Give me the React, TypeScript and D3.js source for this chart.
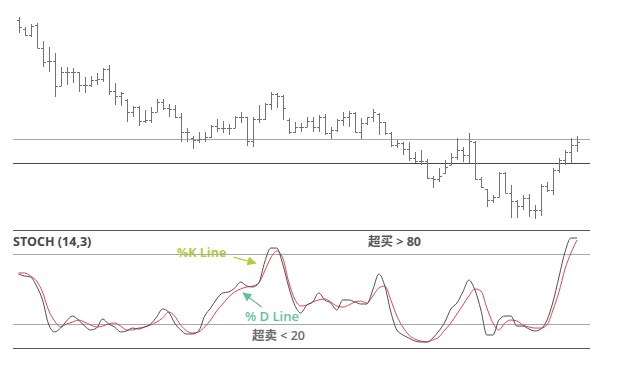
import React from "react";
import * as d3 from "d3";

// price bars (price units)
const highs = [213, 203, 206, 207, 189, 183, 177, 163, 163, 162, 158, 153, 154, 157, 162, 165, 147, 138, 131, 124,
  124, 120, 123, 131, 131, 126, 125, 117, 102, 94, 98, 98, 105, 111, 109, 106, 114, 118, 113, 113,
  125, 127, 138, 137, 135, 112, 108, 107, 113, 113, 115, 116, 103, 111, 118, 119, 118, 112, 113, 121,
  117, 108, 98, 90, 88, 88, 78, 80, 71, 54, 62, 70, 77, 92, 83, 97, 89, 53, 41, 35,
  58, 58, 45, 30, 35, 36, 25, 46, 48, 62, 72, 80, 92, 94];
const lows = [197, 194, 193, 182, 163, 158, 133, 144, 145, 147, 138, 137, 143, 145, 148, 135, 125, 124, 108, 113,
  104, 107, 107, 118, 120, 113, 112, 88, 88, 81, 87, 88, 92, 98, 97, 95, 102, 107, 84, 83,
  107, 110, 120, 122, 110, 96, 97, 98, 103, 98, 98, 95, 91, 98, 104, 103, 97, 91, 105, 108,
  95, 95, 83, 82, 75, 69, 67, 65, 51, 42, 48, 56, 65, 70, 68, 67, 50, 42, 23, 27,
  33, 37, 12, 12, 20, 13, 11, 14, 38, 35, 57, 65, 67, 78];
const opens = [210, 201, 195, 205, 182, 169, 169, 144, 158, 158, 158, 145, 145, 150, 151, 161, 139, 134, 130, 118,
  123, 109, 110, 118, 128, 122, 121, 113, 98, 92, 90, 91, 93, 104, 102, 102, 102, 113, 113, 89,
  111, 111, 126, 136, 134, 110, 98, 103, 103, 109, 103, 113, 97, 100, 110, 113, 117, 98, 107, 113,
  116, 108, 97, 85, 87, 81, 72, 69, 69, 52, 51, 57, 65, 73, 80, 75, 88, 51, 41, 30,
  33, 57, 37, 29, 24, 32, 20, 20, 44, 40, 60, 70, 78, 85];
const closes = [203, 195, 204, 182, 168, 169, 144, 158, 158, 158, 145, 145, 150, 151, 161, 139, 134, 137, 118, 123,
  109, 110, 118, 128, 122, 121, 113, 98, 98, 90, 91, 93, 104, 102, 102, 102, 113, 113, 89, 111,
  111, 126, 136, 134, 122, 98, 103, 103, 109, 103, 113, 97, 100, 110, 113, 117, 98, 107, 113, 118,
  108, 97, 85, 87, 81, 72, 69, 69, 52, 51, 54, 63, 73, 80, 75, 89, 51, 43, 30, 33,
  57, 37, 29, 24, 32, 20, 20, 44, 40, 60, 70, 78, 85, 88];

// stochastic %K and %D, one value per bar
const kValues = [62.7, 61.0, 60.2, 52.5, 40.7, 20.3, 13.6, 16.9, 22.9, 27.1, 23.7, 18.6, 15.3, 16.9, 24.6, 20.3, 17.8, 13.6, 14.4, 16.9,
  16.1, 17.8, 20.3, 26.3, 33.1, 30.5, 21.2, 15.3, 11.9, 11.9, 14.4, 27.1, 33.9, 41.5, 46.6, 47.5, 50.8, 55.9, 52.5, 51.7,
  55.1, 72.9, 84.7, 84.7, 71.2, 51.7, 36.4, 29.7, 36.4, 39.0, 46.6, 40.7, 38.1, 32.2, 40.7, 40.7, 39.0, 37.3, 37.3, 49.2,
  62.7, 52.5, 30.5, 15.3, 11.0, 8.5, 5.9, 5.1, 5.1, 8.5, 14.4, 22.0, 33.1, 38.1, 47.5, 57.6, 49.2, 32.2, 11.0, 11.0,
  23.7, 27.1, 27.1, 18.6, 18.6, 16.1, 14.4, 16.1, 23.7, 39.0, 60.2, 81.4, 93.2, 93.2];
const dValues = [63.6, 63.6, 61.0, 56.8, 47.5, 32.2, 22.9, 17.8, 20.3, 22.0, 23.7, 22.0, 19.5, 17.8, 18.6, 20.3, 21.2, 18.6, 15.3, 15.3,
  16.9, 17.8, 19.5, 22.0, 25.4, 30.5, 27.1, 19.5, 14.4, 12.7, 13.6, 17.8, 23.7, 31.4, 37.3, 43.2, 47.5, 50.0, 51.7, 52.5,
  55.1, 65.3, 76.3, 82.2, 76.3, 55.9, 41.5, 35.6, 36.4, 39.0, 40.7, 41.5, 39.0, 35.6, 34.7, 36.4, 39.0, 39.8, 38.1, 44.1,
  50.8, 52.5, 40.7, 27.1, 17.8, 11.0, 7.6, 5.9, 5.1, 6.8, 9.3, 15.3, 21.2, 28.8, 36.4, 44.1, 50.0, 48.3, 33.9, 21.2,
  15.3, 21.2, 23.7, 22.9, 19.5, 17.8, 16.9, 16.9, 19.5, 32.2, 47.5, 66.9, 80.5, 91.5];

const priceLevels = [91, 67]; // resistance, support
const stochBands = [80, 20];

const font = "'Open Sans', 'Noto Sans CJK SC', sans-serif";

export default function App() {
  const n = highs.length;
  const x = d3.scaleLinear().domain([0, n - 1]).range([18.5, 577]);
  const yP = d3.scaleLinear().domain([0, 220]).range([230, 10]);
  const yS = d3.scaleLinear().domain([0, 100]).range([348, 230]);
  const crisp = (v: number) => Math.round(v) + 0.5;
  const left = 13;
  const right = 590;

  const line = d3
    .line<number>()
    .x((_, i) => x(i))
    .y((d) => yS(d))
    .curve(d3.curveMonotoneX);

  return (
    <svg width={621} height={388} style={{ position: "absolute", left: 0, top: 0 }} fontFamily={font}>
      <defs>
        <marker id="arrK" viewBox="0 0 10 10" refX="9" refY="5" markerWidth="7" markerHeight="7" orient="auto">
          <path d="M0,0 L10,5 L0,10 z" fill="#b5cc3a" />
        </marker>
        <marker id="arrD" viewBox="0 0 10 10" refX="9" refY="5" markerWidth="7" markerHeight="7" orient="auto">
          <path d="M0,0 L10,5 L0,10 z" fill="#5fbfa0" />
        </marker>
      </defs>

      {/* price panel levels */}
      {priceLevels.map((p, i) => (
        <line key={p} x1={left} x2={right} y1={crisp(yP(p))} y2={crisp(yP(p))}
          stroke={i === 0 ? "#a8a8a8" : "#4a4a4a"} strokeWidth={1} />
      ))}

      {/* OHLC bars */}
      <g stroke="#737373" strokeWidth={1}>
        {highs.map((h, i) => {
          const cx = crisp(x(i));
          return (
            <g key={i}>
              <line x1={cx} x2={cx} y1={yP(h)} y2={yP(lows[i])} />
              <line x1={cx - 2.5} x2={cx} y1={crisp(yP(opens[i]))} y2={crisp(yP(opens[i]))} />
              <line x1={cx} x2={cx + 2.5} y1={crisp(yP(closes[i]))} y2={crisp(yP(closes[i]))} />
            </g>
          );
        })}
      </g>

      {/* stoch panel */}
      <text x={left} y={246} fontSize={12.5} fontWeight={700} fill="#474747">STOCH (14,3)</text>
      <text x={177} y={257} fontSize={12.5} fontWeight={700} fill="#b5cc3a">%K Line</text>
      <text x={245} y={321} fontSize={13} fontWeight={600} fill="#5fbfa0">% D Line</text>
      <text x={368} y={245.5} fontSize={12.5} fontWeight={700} fill="#555">超买 &gt; 80</text>
      <text x={252} y={340} fontSize={12.5} fontWeight={600} fill="#6a6a6a">超卖 &lt; 20</text>

      {[100, 0].map((v) => (
        <line key={v} x1={left} x2={right} y1={crisp(yS(v))} y2={crisp(yS(v))} stroke="#555" strokeWidth={1.2} />
      ))}
      {stochBands.map((v) => (
        <line key={v} x1={left} x2={right} y1={crisp(yS(v))} y2={crisp(yS(v))} stroke="#a8a8a8" strokeWidth={1} />
      ))}

      <path d={line(dValues) ?? ""} fill="none" stroke="#e8434f" strokeWidth={1} />
      <path d={line(kValues) ?? ""} fill="none" stroke="#4d4d4d" strokeWidth={1} />

      <line x1={x(35.8)} y1={yS(77)} x2={x(39.5)} y2={yS(72)} stroke="#b5cc3a" strokeWidth={1.3} markerEnd="url(#arrK)" />
      <line x1={x(40.5)} y1={yS(34.7)} x2={x(37.4)} y2={yS(46.6)} stroke="#5fbfa0" strokeWidth={1.3} markerEnd="url(#arrD)" />
    </svg>
  );
}
